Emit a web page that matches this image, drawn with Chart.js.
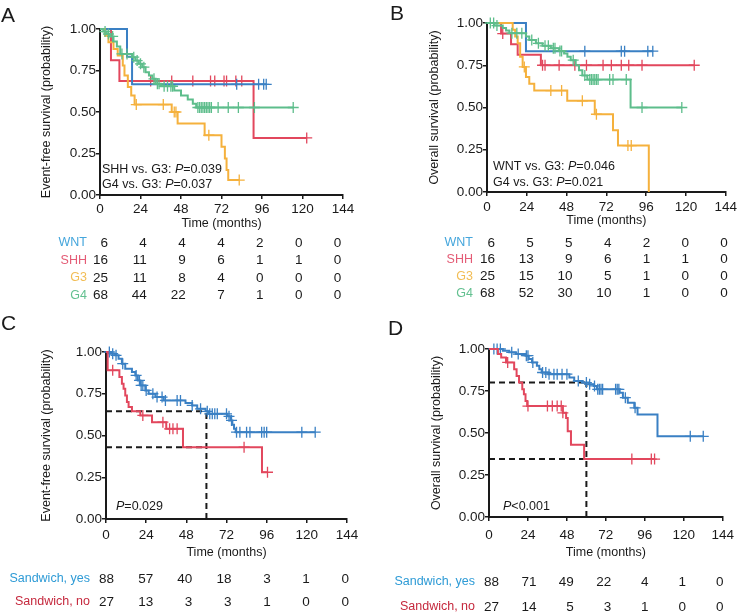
<!DOCTYPE html>
<html>
<head>
<meta charset="utf-8">
<script src="https://cdn.jsdelivr.net/npm/chart.js@4.4.1/dist/chart.umd.min.js"></script>
<style>
  body { margin: 0; background: #fff; }
  #wrap { position: relative; width: 740px; height: 614px; font-family: "Liberation Sans", Arial, sans-serif; }
  canvas { position: absolute; }
  .tag { position: absolute; font-size: 21px; line-height: 1; color: #1a1a1a; }
</style>
</head>
<body>
<div id="wrap">
  <canvas id="cA" width="370" height="310" style="left:0;top:0"></canvas>
  <canvas id="cB" width="370" height="310" style="left:370px;top:0"></canvas>
  <canvas id="cC" width="370" height="304" style="left:0;top:310px"></canvas>
  <canvas id="cD" width="370" height="304" style="left:370px;top:310px"></canvas>
  <div class="tag" style="left:1px;top:4px">A</div>
  <div class="tag" style="left:390px;top:2px">B</div>
  <div class="tag" style="left:1px;top:312px">C</div>
  <div class="tag" style="left:388px;top:317px">D</div>
</div>
<script>
const FAMILY = '"Liberation Sans", Arial, sans-serif';
Chart.defaults.font.family = FAMILY;
const ink = '#1a1a1a';

/* =====================
   DATA
===================== */
const riskTimes = [0, 24, 48, 72, 96, 120, 144];

// --- A: event-free survival by subgroup (event times, survival, censor times)
const efsWntT = [0, 16, 19];
const efsWntS = [1, 0.833, 0.667];
const efsWntC = [81, 94, 97, 98.5];
const efsShhT = [0, 6.5, 11.5, 91];
const efsShhS = [1, 0.8125, 0.6875, 0.344];
const efsShhC = [30, 42.5, 55, 65.5, 68, 73.5, 75, 80.5, 84, 122.5];
const efsG3T = [0, 3, 5, 8, 10.5, 13.5, 14.5, 16.5, 18.5, 20.5, 42.5, 46, 62, 72, 74, 75, 76];
const efsG3S = [1, 0.96, 0.92, 0.88, 0.84, 0.78, 0.72, 0.65, 0.60, 0.545, 0.50, 0.43, 0.36, 0.29, 0.22, 0.15, 0.09];
const efsG3C = [21.5, 37.5, 44, 45, 64.5, 82.5];
const efsG4T = [0, 2, 4, 6, 8, 10, 12, 19, 21, 23, 25, 27, 29, 31, 33, 36, 44, 48, 52, 55, 57];
const efsG4S = [1, 0.985, 0.97, 0.955, 0.925, 0.895, 0.85, 0.83, 0.81, 0.79, 0.77, 0.74, 0.72, 0.70, 0.67, 0.655, 0.63, 0.60, 0.575, 0.55, 0.527];
const efsG4C = [3, 5, 7.5, 13, 16, 20, 22, 24, 26, 32, 34, 35, 38, 40, 42, 43, 58, 59, 60, 61, 62, 63, 64, 65, 66, 70, 76, 82, 91.5, 114.5];
const efsRiskWnt = [6, 4, 4, 4, 2, 0, 0];
const efsRiskShh = [16, 11, 9, 6, 1, 1, 0];
const efsRiskG3 = [25, 11, 8, 4, 0, 0, 0];
const efsRiskG4 = [68, 44, 22, 7, 1, 0, 0];

// --- B: overall survival by subgroup
const osWntT = [0, 23.5];
const osWntS = [1, 0.833];
const osWntC = [59, 81, 83, 97, 100];
const osShhT = [0, 8.5, 14.5, 18.5, 32.5];
const osShhS = [1, 0.9375, 0.875, 0.8125, 0.75];
const osShhC = [9.5, 33.5, 35, 43.5, 53, 60, 70, 75, 81, 85.5, 93.5, 125];
const osG3T = [0, 15.5, 17, 18.5, 20, 21.5, 23.5, 25.5, 28.5, 48.4, 65, 76, 79, 97.6];
const osG3S = [1, 0.96, 0.92, 0.88, 0.80, 0.74, 0.68, 0.64, 0.60, 0.54, 0.46, 0.365, 0.275, 0];
const osG3C = [22.5, 38.5, 45, 57.5, 66, 85, 87];
const osG4T = [0, 4.5, 9.5, 11.5, 13.5, 23.5, 25.5, 29.5, 33.5, 38.5, 43.5, 46.5, 48.5, 50.5, 53.5, 55.5, 57.5, 60.5, 86.6];
const osG4S = [1, 0.985, 0.97, 0.955, 0.94, 0.92, 0.90, 0.88, 0.865, 0.85, 0.835, 0.82, 0.80, 0.78, 0.75, 0.72, 0.69, 0.665, 0.50];
const osG4C = [2, 4, 6, 15, 18, 21, 27, 31, 35, 37, 40, 41, 44, 45, 52, 59, 62, 63, 64, 65, 66, 67, 74, 76, 84, 93.5, 117.5];
const osRiskWnt = [6, 5, 5, 4, 2, 0, 0];
const osRiskShh = [16, 13, 9, 6, 1, 1, 0];
const osRiskG3 = [25, 15, 10, 5, 1, 0, 0];
const osRiskG4 = [68, 52, 30, 10, 1, 0, 0];

// --- C: event-free survival, sandwich yes / no
const swEfsYesT = [0, 3, 5.5, 7.5, 9.5, 11.5, 15.5, 17.5, 19, 20.5, 23.5, 25.5, 29.5, 34.5, 47.5, 51.5, 54.5, 59.5, 61.5, 72.5, 74.5, 75.5, 76.5, 77.5];
const swEfsYesS = [1, 0.99, 0.98, 0.96, 0.93, 0.90, 0.88, 0.86, 0.83, 0.80, 0.77, 0.75, 0.73, 0.71, 0.695, 0.68, 0.66, 0.645, 0.63, 0.615, 0.59, 0.565, 0.54, 0.52];
const swEfsYesC = [2, 4, 6, 10, 18, 20, 21, 22, 24, 28, 30.5, 33.5, 35.5, 42.5, 44.5, 51.5, 56.5, 60.5, 62, 63.5, 65, 66.5, 72, 73.5, 75, 78, 80, 84, 86, 93, 94.5, 96, 117, 125];
const swEfsNoT = [0, 1, 8, 9.5, 10.5, 11.5, 12.5, 13.5, 15.5, 20.5, 27.5, 36, 46, 93.2];
const swEfsNoS = [1, 0.89, 0.85, 0.81, 0.78, 0.74, 0.70, 0.67, 0.645, 0.62, 0.58, 0.54, 0.43, 0.28];
const swEfsNoC = [4, 22, 34, 38, 40, 42.5, 82.5, 96.5];
const swEfsRiskYes = [88, 57, 40, 18, 3, 1, 0];
const swEfsRiskNo = [27, 13, 3, 3, 1, 0, 0];
const swEfsRef = { t: 60, yes: 0.645, no: 0.43 };

// --- D: overall survival, sandwich yes / no
const swOsYesT = [0, 8.5, 12.5, 16.5, 22.5, 24.5, 26.5, 29.5, 31, 32.5, 36.5, 49.5, 52.5, 57.5, 61.5, 64.5, 66.5, 80.5, 82.5, 85.5, 89.5, 91.5, 103.8];
const swOsYesS = [1, 0.99, 0.98, 0.97, 0.96, 0.94, 0.92, 0.90, 0.88, 0.86, 0.85, 0.83, 0.81, 0.80, 0.79, 0.78, 0.76, 0.74, 0.71, 0.68, 0.65, 0.61, 0.48];
const swOsYesC = [3, 5, 7, 14, 18, 23, 24, 27, 33, 35, 37, 40, 42, 45, 48, 55, 60, 62, 65, 67, 68, 69, 70, 78, 79, 80, 84, 90, 124, 132];
const swOsNoT = [0, 5.5, 7.5, 10.5, 15.5, 17, 18.5, 20.5, 21.5, 22.5, 23.5, 45.5, 47.5, 48.5, 50.5, 58.6];
const swOsNoS = [1, 0.97, 0.95, 0.92, 0.88, 0.84, 0.80, 0.76, 0.73, 0.69, 0.66, 0.62, 0.59, 0.51, 0.43, 0.345];
const swOsNoC = [11.5, 24, 36, 39, 42, 44.5, 45.5, 88, 100, 102];
const swOsRiskYes = [88, 71, 49, 22, 4, 1, 0];
const swOsRiskNo = [27, 14, 5, 3, 1, 0, 0];
const swOsRef = { t: 60, yes: 0.80, no: 0.345 };

/* =====================
   COLOURS
===================== */
const cBlue = '#3a80c4', cRed = '#e2475d', cOrange = '#f5b13d', cGreen = '#5dbd8b';
const lWnt = '#45a6dc', lShh = '#e45c76', lG3 = '#f2bd55', lG4 = '#63c090';
const lYes = '#2e9bd6', lNo = '#c5283d';

/* =====================
   HELPERS
===================== */
function survAt(ts, ss, t) {
  let s = ss[0];
  ts.forEach((x, i) => { if (x <= t) s = ss[i]; });
  return s;
}

function curve(ts, ss, cs, color) {
  const line = ts.map((t, i) => ({ x: t, y: ss[i] }));
  const lastC = Math.max(...cs);
  if (lastC > ts[ts.length - 1]) line.push({ x: lastC, y: ss[ss.length - 1] });
  const marks = cs.map(t => ({ x: t, y: survAt(ts, ss, t) }));
  return [
    { data: line, showLine: true, stepped: true, borderColor: color, borderWidth: 2,
      pointRadius: 0, clip: false, order: 1 },
    { data: marks, showLine: false, pointStyle: 'cross', pointRadius: 5.5,
      pointBorderColor: color, pointBorderWidth: 1.3, clip: false, order: 1 }
  ];
}

function refLines(ref) {
  const d = { showLine: true, borderColor: ink, borderWidth: 2, borderDash: [6, 4],
              pointRadius: 0, clip: false, order: 5 };
  return [
    { ...d, data: [{ x: 0, y: ref.yes }, { x: ref.t, y: ref.yes }] },
    { ...d, data: [{ x: ref.t, y: 0 }, { x: ref.t, y: ref.yes }] },
    { ...d, data: [{ x: 0, y: ref.no }, { x: ref.t, y: ref.no }] }
  ];
}

// number-at-risk table under the x axis (columns right-aligned, slightly narrower than the axis)
function riskPlugin(cfg) {
  return {
    id: 'risk',
    afterDraw(chart) {
      const { ctx, chartArea, scales: { x } } = chart;
      ctx.save();
      ctx.textBaseline = 'middle';
      ctx.textAlign = 'right';
      cfg.rows.forEach((row, i) => {
        const y = chartArea.bottom + cfg.rowTop + i * cfg.rowGap;
        ctx.font = '12.5px ' + FAMILY;
        ctx.fillStyle = row.color;
        ctx.fillText(row.label, chartArea.left - cfg.labelGap, y);
        ctx.font = '13.5px ' + FAMILY;
        ctx.fillStyle = ink;
        row.values.forEach((v, j) => {
          ctx.fillText(String(v), x.getPixelForValue(riskTimes[j] * cfg.colK) + cfg.numShift, y);
        });
      });
      ctx.restore();
    }
  };
}

// p-value notes, "|P|" parts drawn italic
function notePlugin(cfg) {
  return {
    id: 'note',
    afterDatasetsDraw(chart) {
      const { ctx, chartArea } = chart;
      ctx.save();
      ctx.textBaseline = 'middle';
      ctx.textAlign = 'left';
      ctx.fillStyle = ink;
      cfg.notes.forEach(n => {
        let x = chartArea.left + cfg.noteX;
        const y = chartArea.bottom + n.dy;
        n.text.split('|').forEach((part, k) => {
          ctx.font = (k % 2 ? 'italic ' : '') + '12.5px ' + FAMILY;
          ctx.fillText(part, x, y);
          x += ctx.measureText(part).width;
        });
      });
      ctx.restore();
    }
  };
}

function axisCommon() {
  return {
    grid: { drawOnChartArea: false, tickLength: 4, color: ink, lineWidth: 1.5 },
    border: { color: ink, width: 2 }
  };
}

function makePanel(id, cfg) {
  new Chart(document.getElementById(id), {
    type: 'scatter',
    data: { datasets: cfg.datasets },
    options: {
      responsive: false,
      animation: false,
      events: [],
      layout: { padding: { left: cfg.padL, right: cfg.padR, top: cfg.padT, bottom: cfg.padB } },
      plugins: { legend: { display: false }, tooltip: { enabled: false } },
      scales: {
        x: {
          type: 'linear', min: 0, max: 144,
          afterFit(s) { s.height = cfg.xH; },
          ticks: { stepSize: 24, padding: cfg.xTickPad, color: ink, font: { size: 13.5 }, maxRotation: 0 },
          title: { display: true, text: 'Time (months)', color: ink, font: { size: 12.5 } },
          ...axisCommon()
        },
        y: {
          min: 0, max: 1,
          afterFit(s) { s.width = cfg.yW; },
          ticks: { stepSize: 0.25, padding: 0, color: ink, font: { size: 13.5 }, callback: v => v.toFixed(2) },
          title: { display: true, text: cfg.yTitle, color: ink, font: { size: 12.5 } },
          ...axisCommon()
        }
      }
    },
    plugins: [riskPlugin(cfg), notePlugin(cfg)]
  });
}

/* =====================
   PANELS
===================== */
makePanel('cA', {
  padL: 35, yW: 65, padR: 27, padT: 29, xH: 40, padB: 75, xTickPad: 2,
  yTitle: 'Event-free survival (probability)',
  datasets: [
    ...curve(efsG4T, efsG4S, efsG4C, cGreen),
    ...curve(efsG3T, efsG3S, efsG3C, cOrange),
    ...curve(efsWntT, efsWntS, efsWntC, cBlue),
    ...curve(efsShhT, efsShhS, efsShhC, cRed)
  ],
  rows: [
    { label: 'WNT', color: lWnt, values: efsRiskWnt },
    { label: 'SHH', color: lShh, values: efsRiskShh },
    { label: 'G3', color: lG3, values: efsRiskG3 },
    { label: 'G4', color: lG4, values: efsRiskG4 }
  ],
  rowTop: 48, rowGap: 17.5, labelGap: 13, colK: 0.96, numShift: 8,
  noteX: 2,
  notes: [
    { text: 'SHH vs. G3: |P|=0.039', dy: -25 },
    { text: 'G4 vs. G3: |P|=0.037', dy: -10 }
  ]
});

makePanel('cB', {
  padL: 53, yW: 64, padR: 12, padT: 23, xH: 40, padB: 78, xTickPad: 3,
  yTitle: 'Overall survival (probability)',
  datasets: [
    ...curve(osG4T, osG4S, osG4C, cGreen),
    ...curve(osG3T, osG3S, osG3C, cOrange),
    ...curve(osShhT, osShhS, osShhC, cRed),
    ...curve(osWntT, osWntS, osWntC, cBlue)
  ],
  rows: [
    { label: 'WNT', color: lWnt, values: osRiskWnt },
    { label: 'SHH', color: lShh, values: osRiskShh },
    { label: 'G3', color: lG3, values: osRiskG3 },
    { label: 'G4', color: lG4, values: osRiskG4 }
  ],
  rowTop: 51, rowGap: 16.7, labelGap: 14, colK: 0.975, numShift: 8,
  noteX: 6,
  notes: [
    { text: 'WNT vs. G3: |P|=0.046', dy: -25 },
    { text: 'G4 vs. G3: |P|=0.021', dy: -9 }
  ]
});

makePanel('cC', {
  padL: 35, yW: 71, padR: 23, padT: 42, xH: 45, padB: 50, xTickPad: 4,
  yTitle: 'Event-free survival (probability)',
  datasets: [
    ...refLines(swEfsRef),
    ...curve(swEfsNoT, swEfsNoS, swEfsNoC, cRed),
    ...curve(swEfsYesT, swEfsYesS, swEfsYesC, cBlue)
  ],
  rows: [
    { label: 'Sandwich, yes', color: lYes, values: swEfsRiskYes },
    { label: 'Sandwich, no', color: lNo, values: swEfsRiskNo }
  ],
  rowTop: 60, rowGap: 23, labelGap: 16, colK: 0.975, numShift: 8,
  noteX: 10,
  notes: [{ text: '|P|=0.029', dy: -12 }]
});

makePanel('cD', {
  padL: 55, yW: 64, padR: 12, padT: 39, xH: 47, padB: 50, xTickPad: 6,
  yTitle: 'Overall survival (probability)',
  datasets: [
    ...refLines(swOsRef),
    ...curve(swOsNoT, swOsNoS, swOsNoC, cRed),
    ...curve(swOsYesT, swOsYesS, swOsYesC, cBlue)
  ],
  rows: [
    { label: 'Sandwich, yes', color: lYes, values: swOsRiskYes },
    { label: 'Sandwich, no', color: lNo, values: swOsRiskNo }
  ],
  rowTop: 65, rowGap: 25, labelGap: 14, colK: 0.96, numShift: 10,
  noteX: 14,
  notes: [{ text: '|P|<0.001', dy: -10 }]
});
</script>
</body>
</html>
